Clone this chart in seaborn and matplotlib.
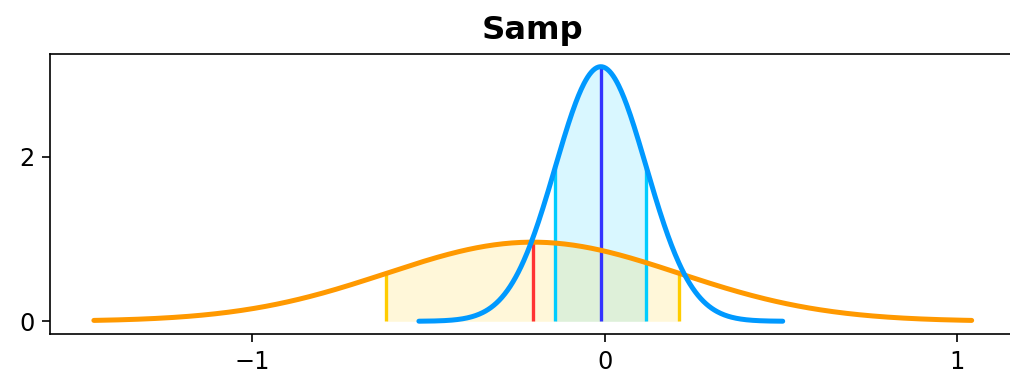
import numpy as np
import pandas as pd
import matplotlib
matplotlib.use("Agg")
import matplotlib.pyplot as plt
import seaborn as sns

# Distribution parameters
names = ["narrow", "wide"]
means = [-0.011, -0.204]
sigmas = [0.129, 0.415]
spans = [4.0, 3.0]          # curve drawn over mean +/- span*sigma
title = "Samp"
xticks = [-1, 0, 1]
yticks = [0, 2]

curve_colors = ["#0099ff", "#ff9900"]
fill_colors = ["#00ccff", "#ffcc00"]
edge_colors = ["#00ccff", "#ffcc00"]
mean_colors = ["#3333ff", "#ff3333"]

sns.set_style("ticks", {"axes.edgecolor": "black", "text.color": "black",
                        "xtick.color": "black", "ytick.color": "black",
                        "axes.labelcolor": "black"})
plt.rcParams['font.family'] = ['DejaVu Sans']

fig, ax = plt.subplots(figsize=(1010 / 150, 380 / 150), dpi=150)

def pdf(x, m, s):
    return np.exp(-0.5 * ((x - m) / s) ** 2) / (s * np.sqrt(2 * np.pi))

frames = []
for n, m, s, k in zip(names, means, sigmas, spans):
    x = np.linspace(m - k * s, m + k * s, 400)
    frames.append(pd.DataFrame({"x": x, "y": pdf(x, m, s), "dist": n}))
df = pd.concat(frames, ignore_index=True)

# shaded +/- 1 sigma regions and vertical lines
for i, (m, s) in enumerate(zip(means, sigmas)):
    xs = np.linspace(m - s, m + s, 200)
    ax.fill_between(xs, 0, pdf(xs, m, s), color=fill_colors[i], alpha=0.15, lw=0)
    for xe in (m - s, m + s):
        ax.vlines(xe, 0, pdf(xe, m, s), color=edge_colors[i], lw=1.6, zorder=3)
    ax.vlines(m, 0, pdf(m, m, s), color=mean_colors[i], lw=1.6, zorder=3)

sns.lineplot(data=df[df.dist == "wide"], x="x", y="y", color=curve_colors[1],
             lw=2.4, ax=ax, zorder=4, sort=False)
sns.lineplot(data=df[df.dist == "narrow"], x="x", y="y", color=curve_colors[0],
             lw=2.4, ax=ax, zorder=5, sort=False)

ax.set_xticks(xticks)
ax.set_yticks(yticks)
ax.set_xlabel("")
ax.set_ylabel("")
ax.set_title(title, fontweight="bold", fontsize=15.5, color="black", pad=7)
ax.tick_params(labelsize=11.5, colors="black", length=4)
for sp in ax.spines.values():
    sp.set_edgecolor("black")

# axes extends slightly past the right edge of the image, as in the reference
ax.set_position([0.0495, 0.121, 0.956, 0.737])
fig.savefig("out.png", dpi=150)
